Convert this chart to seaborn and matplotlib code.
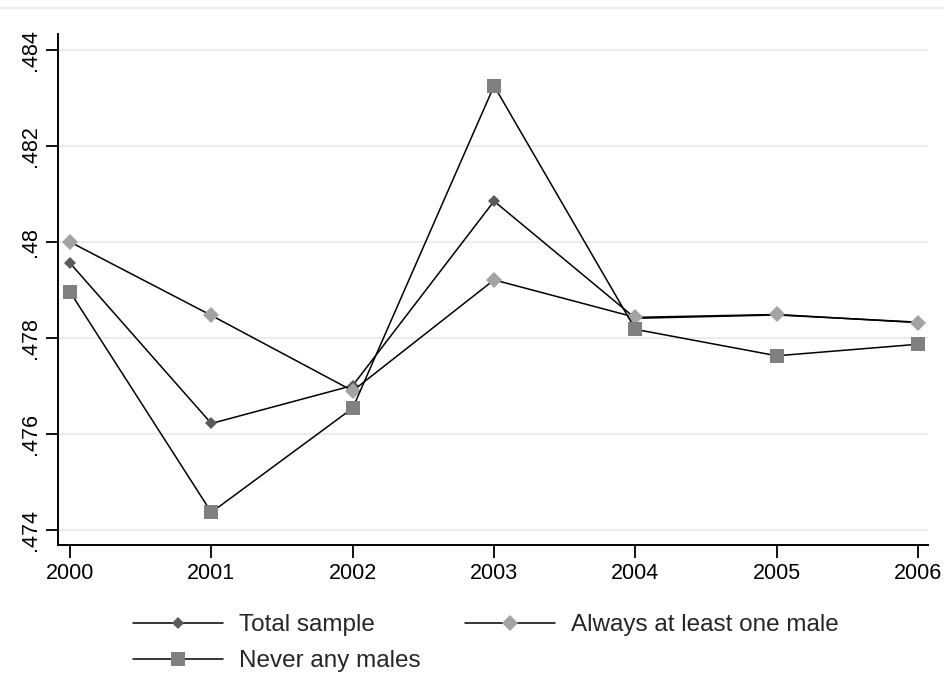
import matplotlib
matplotlib.use("Agg")
import matplotlib.pyplot as plt
import matplotlib.ticker as mticker
from matplotlib.lines import Line2D
import pandas as pd
import seaborn as sns

years = [2000, 2001, 2002, 2003, 2004, 2005, 2006]
total_sample = [0.47956, 0.47622, 0.47701, 0.48085, 0.47841, 0.47848, 0.47833]
always_male = [0.48000, 0.47847, 0.47690, 0.47921, 0.47843, 0.47849, 0.47832]
never_males = [0.47896, 0.47437, 0.47654, 0.48325, 0.47818, 0.47763, 0.47787]
y_ticks = [0.474, 0.476, 0.478, 0.480, 0.482, 0.484]

sns.set_theme(style="white")
plt.rcParams["font.family"] = ["Liberation Sans", "DejaVu Sans"]

fig = plt.figure(figsize=(9.45, 6.73), dpi=100)
ax = fig.add_axes([58 / 945, 1 - 545 / 673, 870 / 945, 511 / 673])

series = [
    ("Total sample", total_sample, "D", 6.5, "#5a5a5a"),
    ("Always at least one male", always_male, "D", 8.5, "#a3a3a3"),
    ("Never any males", never_males, "s", 9.5, "#808080"),
]
for name, vals, mk, ms, col in series:
    df = pd.DataFrame({"year": years, "value": vals})
    sns.lineplot(data=df, x="year", y="value", ax=ax, color="black", lw=1.1,
                 marker=mk, markersize=ms, markerfacecolor=col,
                 markeredgecolor=col, markeredgewidth=0, label=name)

ax.set_xlim(1999.915, 2006.07)
ax.set_ylim(0.47369, 0.48433)
ax.set_xticks(years)
ax.set_yticks(y_ticks)
ax.yaxis.set_major_formatter(mticker.FuncFormatter(
    lambda v, _: f"{v:.3f}".rstrip("0").lstrip("0")))
ax.set_xlabel("")
ax.set_ylabel("")
for lab in ax.get_yticklabels():
    lab.set_rotation(90)
    lab.set_va("center")
ax.tick_params(axis="y", labelsize=15.5, length=9, width=1.3, direction="out",
               left=True, pad=3, colors="black")
ax.tick_params(axis="x", labelsize=15.5, length=9, width=1.3, direction="out",
               bottom=True, pad=4, colors="black")
ax.grid(axis="y", color="#ebebeb", lw=1.6)
ax.grid(axis="x", visible=False)
for side in ["top", "right"]:
    ax.spines[side].set_visible(False)
for side in ["left", "bottom"]:
    ax.spines[side].set_color("black")
    ax.spines[side].set_linewidth(1.4)

handles, labels = ax.get_legend_handles_labels()
ax.legend_.remove()
order = [0, 2, 1]
fig.legend([handles[i] for i in order], [labels[i] for i in order],
           loc="upper left", bbox_to_anchor=(133 / 945, 1 - 614 / 673),
           ncol=2, frameon=False, fontsize=17.5, handlelength=3.7,
           handletextpad=0.65, columnspacing=1.85, labelspacing=0.58,
           borderpad=0, borderaxespad=0)

fig.add_artist(Line2D([0, 1], [1 - 8 / 673, 1 - 8 / 673],
                      transform=fig.transFigure, color="#ececec", lw=1.5))

fig.savefig("out.png", dpi=100, facecolor="white")
